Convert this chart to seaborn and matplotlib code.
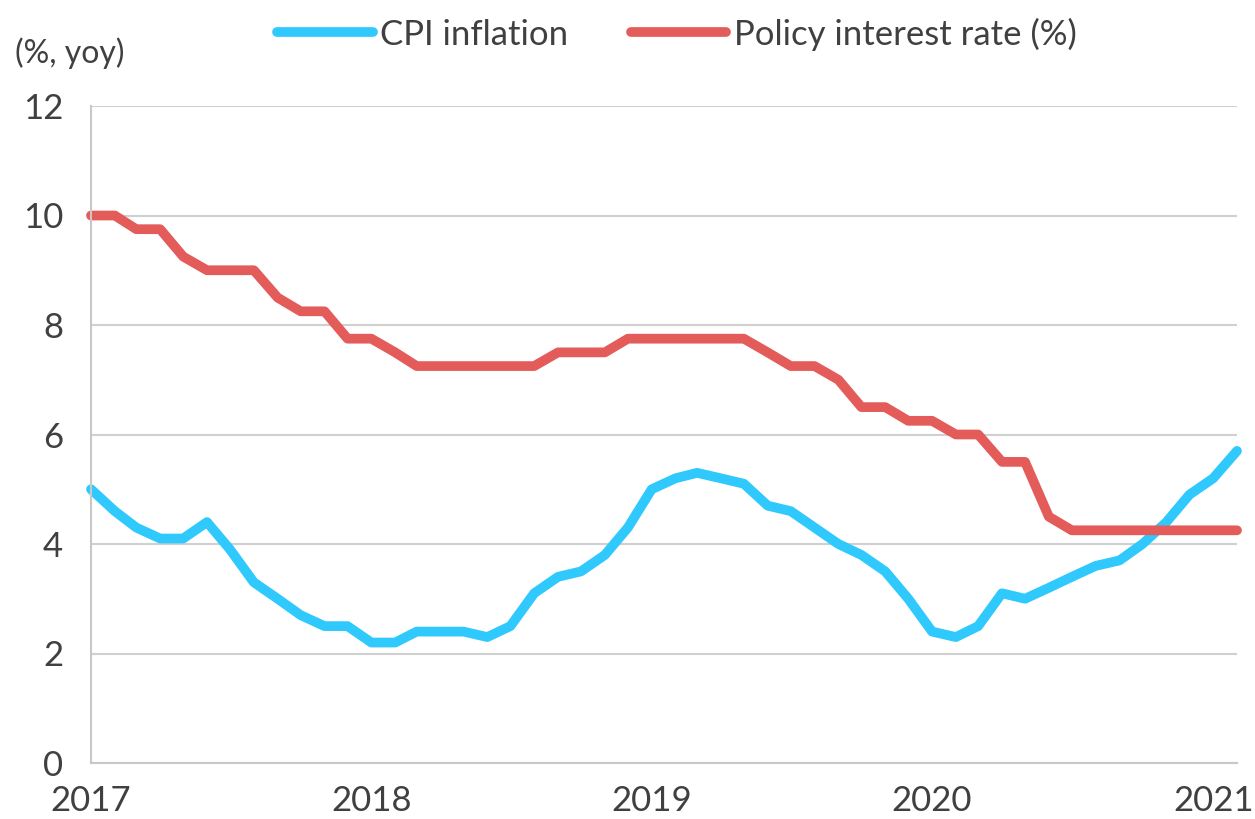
import pandas as pd
import numpy as np
import matplotlib.pyplot as plt
import seaborn as sns

# monthly data, Jan 2017 - Feb 2021
months = pd.date_range("2017-01-01", "2021-02-01", freq="MS")

cpi_inflation = [5.0, 4.6, 4.3, 4.1, 4.1, 4.4, 3.9, 3.3, 3.0, 2.7, 2.5, 2.5,
                 2.2, 2.2, 2.4, 2.4, 2.4, 2.3, 2.5, 3.1, 3.4, 3.5, 3.8, 4.3,
                 5.0, 5.2, 5.3, 5.2, 5.1, 4.7, 4.6, 4.3, 4.0, 3.8, 3.5, 3.0,
                 2.4, 2.3, 2.5, 3.1, 3.0, 3.2, 3.4, 3.6, 3.7, 4.0, 4.4, 4.9,
                 5.2, 5.7]

policy_rate = [10.0, 10.0, 9.75, 9.75, 9.25, 9.0, 9.0, 9.0, 8.5, 8.25, 8.25, 7.75,
               7.75, 7.5, 7.25, 7.25, 7.25, 7.25, 7.25, 7.25, 7.5, 7.5, 7.5, 7.75,
               7.75, 7.75, 7.75, 7.75, 7.75, 7.5, 7.25, 7.25, 7.0, 6.5, 6.5, 6.25,
               6.25, 6.0, 6.0, 5.5, 5.5, 4.5, 4.25, 4.25, 4.25, 4.25, 4.25, 4.25,
               4.25, 4.25]

series_names = ["CPI inflation", "Policy interest rate (%)"]
series_colors = ["#2FC9FD", "#E35C5A"]
year_ticks = pd.to_datetime(["2017-01-01", "2018-01-01", "2019-01-01", "2020-01-01", "2021-01-01"])
year_labels = ["2017", "2018", "2019", "2020", "2021"]

df = pd.DataFrame({
    "date": list(months) * 2,
    "value": cpi_inflation + policy_rate,
    "series": [series_names[0]] * len(months) + [series_names[1]] * len(months),
})

sns.set_style("white")
plt.rcParams["font.family"] = ["Lato", "DejaVu Sans"]
text_col = "#404040"

fig = plt.figure(figsize=(12.55, 8.19), dpi=100)
ax = fig.add_axes([91 / 1255, 1 - 763 / 819, (1237 - 91) / 1255, (763 - 106) / 819])

sns.lineplot(data=df, x="date", y="value", hue="series", hue_order=series_names,
             palette=series_colors, linewidth=7, ax=ax)
for ln in ax.lines:
    ln.set_solid_capstyle("round")
    ln.set_solid_joinstyle("round")
    ln.set_clip_on(False)

ax.set_xlim(months[0], months[-1])
ax.set_ylim(0, 12)
ax.set_yticks(range(0, 13, 2))
ax.set_xticks(year_ticks)
ax.set_xticklabels(year_labels)
ax.set_xlabel("")
ax.set_ylabel("")
ax.yaxis.grid(True, color="#D0D0D0", linewidth=1.5)
ax.set_axisbelow(True)
for s in ["top", "right"]:
    ax.spines[s].set_visible(False)
for s in ["left", "bottom"]:
    ax.spines[s].set_color("#C8C8C8")
    ax.spines[s].set_linewidth(1.5)
ax.tick_params(axis="both", length=0, labelsize=25, colors=text_col)
ax.tick_params(axis="y", pad=20)
ax.tick_params(axis="x", pad=16)

ax.get_legend().remove()
handles = ax.lines[:2]
leg = fig.legend(handles, series_names, loc="center", bbox_to_anchor=(677 / 1255, 1 - 34 / 819),
                 ncol=2, frameon=False, fontsize=25, handlelength=2.75, handletextpad=0.22,
                 columnspacing=1.8)
for t in leg.get_texts():
    t.set_color(text_col)

fig.text(15 / 1255, 1 - 53 / 819, "(%, yoy)", fontsize=23, color=text_col, va="center", ha="left")

fig.savefig("out.png", dpi=100)
